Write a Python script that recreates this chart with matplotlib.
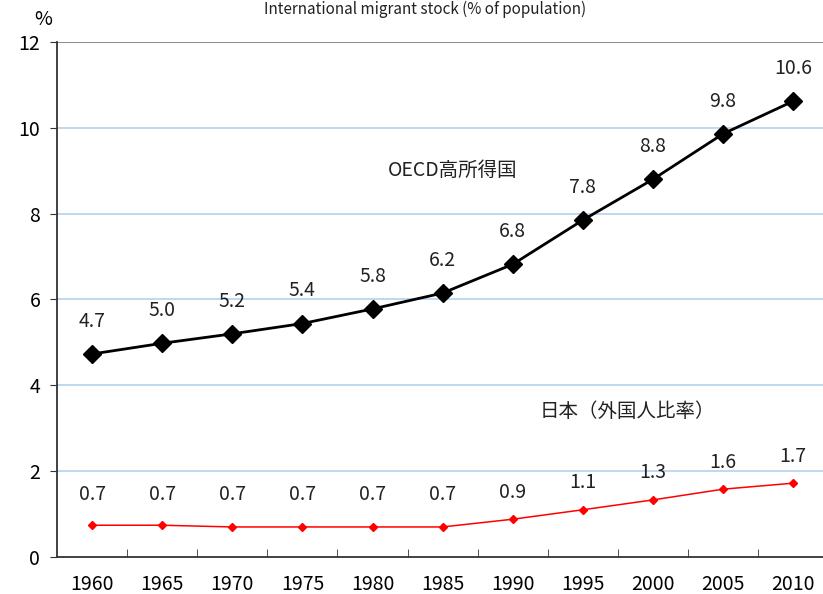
import numpy as np
import matplotlib.pyplot as plt

plt.rcParams['font.family'] = ['Noto Sans CJK JP', 'DejaVu Sans']

# データ
years = ['1960', '1965', '1970', '1975', '1980', '1985', '1990', '1995', '2000', '2005', '2010']
oecd = [4.73, 4.98, 5.2, 5.44, 5.78, 6.15, 6.82, 7.85, 8.8, 9.86, 10.62]
oecd_labels = ['4.7', '5.0', '5.2', '5.4', '5.8', '6.2', '6.8', '7.8', '8.8', '9.8', '10.6']
japan = [0.74, 0.74, 0.7, 0.7, 0.7, 0.7, 0.88, 1.1, 1.33, 1.58, 1.72]
japan_labels = ['0.7', '0.7', '0.7', '0.7', '0.7', '0.7', '0.9', '1.1', '1.3', '1.6', '1.7']

x = np.arange(len(years))
fs = 14

fig = plt.figure(figsize=(8.23, 5.94), dpi=100)
ax = fig.add_axes([0.0693, 0.0623, 0.937, 0.867])

# グリッド
for v in [2, 4, 6, 8, 10]:
    ax.axhline(v, color='#b4d2ee', lw=1.2, zorder=0)
ax.axhline(12, color='#909090', lw=1.5, zorder=0)

ax.plot(x, oecd, color='black', lw=2, marker='D', markersize=9, zorder=3)
ax.plot(x, japan, color='#ff0000', lw=1.1, marker='D', markersize=4, zorder=3)

for xi, v, lab in zip(x, oecd, oecd_labels):
    ax.annotate(lab, (xi, v), xytext=(0, 16), textcoords='offset points',
                ha='center', va='bottom', fontsize=fs, color='#222222')

for i, (xi, v, lab) in enumerate(zip(x, japan, japan_labels)):
    if i < 6:
        ax.text(xi, 1.2, lab, ha='center', va='bottom', fontsize=fs, color='#222222')
    else:
        ax.annotate(lab, (xi, v), xytext=(0, 12), textcoords='offset points',
                    ha='center', va='bottom', fontsize=fs, color='#222222')

ax.text(4.22, 9.0, 'OECD高所得国', fontsize=fs, color='#222222', va='center')
ax.text(6.39, 3.38, '日本（外国人比率）', fontsize=fs, color='#222222', va='center')

ax.set_xlim(-0.5, 10.5)
ax.set_ylim(0, 12)
ax.set_yticks(np.arange(0, 13, 2))
ax.set_yticklabels([str(v) for v in range(0, 13, 2)], fontsize=fs)
ax.set_xticks(x)
ax.set_xticklabels(years, fontsize=fs)
ax.set_xticks(np.arange(0.5, 10.5, 1), minor=True)
ax.tick_params(axis='x', which='major', length=0, pad=12)
ax.tick_params(axis='x', which='minor', direction='in', length=6, color='#333333')
ax.tick_params(axis='y', direction='out', length=5, color='#333333', pad=7)

for s in ['top', 'right']:
    ax.spines[s].set_visible(False)
ax.spines['left'].set_color('#333333')
ax.spines['bottom'].set_color('#333333')
ax.spines['left'].set_linewidth(1.3)
ax.spines['bottom'].set_linewidth(1.3)

fig.text(0.053, 0.967, '%', fontsize=fs, ha='center', va='center')
fig.text(0.517, 0.998, 'International migrant stock (% of population)', fontsize=11,
         ha='center', va='top', color='#222222')

fig.savefig('out.png', dpi=100)
